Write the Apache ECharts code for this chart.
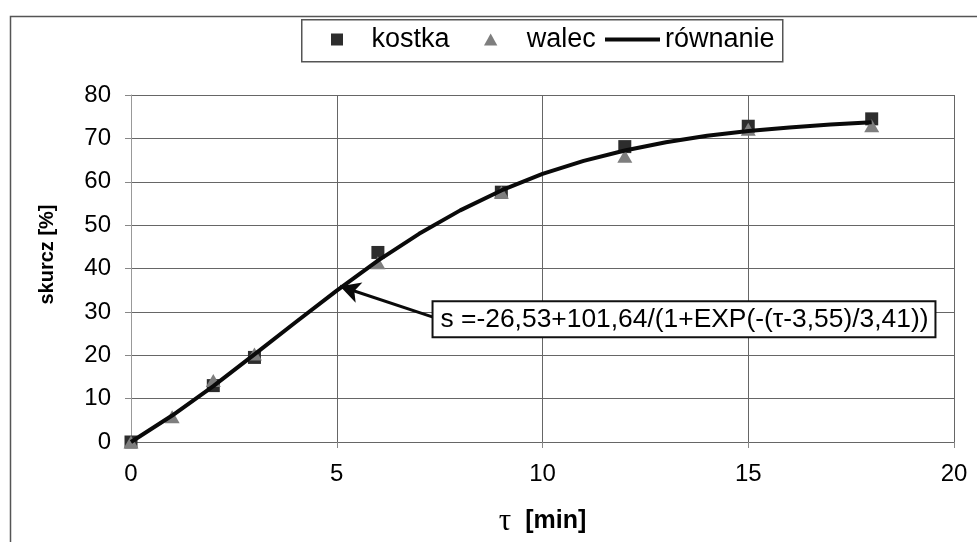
<!DOCTYPE html>
<html>
<head>
<meta charset="utf-8">
<script src="https://cdn.jsdelivr.net/npm/echarts@6/dist/echarts.min.js"></script>
<style>
html,body{margin:0;padding:0;background:#fff;}
#chart{width:977px;height:542px;}
</style>
</head>
<body>
<div id="chart"></div>
<script>
// ---- data ----
var tauKostka = [0, 2, 3, 6, 9, 12, 15, 18];
var kostka    = [0, 13, 19.5, 43.7, 57.6, 68.1, 72.8, 74.5];

var tauWalec  = [0, 1, 2, 3, 6, 9, 12, 15, 18];
var walec     = [0, 5.8, 14.2, 20.3, 41.3, 57.6, 65.9, 72.1, 72.9];

var tauRown    = [0, 1, 2, 3, 4, 5, 6, 7, 8, 9, 10, 11, 12, 13, 14, 15, 16, 17, 18];
var rownanie   = [0, 6.1, 12.9, 20.2, 27.6, 34.9, 41.8, 48.0, 53.4, 58.0, 61.8, 64.8, 67.2, 69.1, 70.6, 71.7, 72.5, 73.2, 73.7];

var seriesNames = ['kostka', 'walec', 'równanie'];
var xTickLabels = ['0', '5', '10', '15', '20'];
var yAxisTitle = 'skurcz [%]';
var equationText = 's =-26,53+101,64/(1+EXP(-(τ-3,55)/3,41))';
var arrowFrom = [7.34, 28.8];
var arrowTo = [5.08, 35.9];
var boxAnchor = [7.34, 28.3];

function pairs(xs, ys) { return xs.map(function (x, i) { return [x, ys[i]]; }); }

var FONT = '"Liberation Sans", Arial, sans-serif';
var chart = echarts.init(document.getElementById('chart'), null, {renderer: 'canvas'});

var legendText = {fontSize: 27, fontFamily: FONT, color: '#000'};
function legendBlock(name, left, icon, w, h, padLeft) {
  return {
    left: left, top: 26, padding: 0,
    itemWidth: w, itemHeight: h,
    symbolKeepAspect: true,
    textStyle: Object.assign({padding: [0, 0, 0, padLeft]}, legendText),
    data: [{name: name, icon: icon}]
  };
}

var option = {
  backgroundColor: '#ffffff',
  animation: false,
  textStyle: {fontFamily: FONT, color: '#000'},
  graphic: [
    {type: 'rect', left: 8, top: 14, z: -1,
     shape: {width: 968, height: 600},
     style: {fill: 'none', stroke: '#555', lineWidth: 1.5}},
    {type: 'rect', left: 301, top: 19, z: -1,
     shape: {width: 481, height: 42},
     style: {fill: '#fff', stroke: '#555', lineWidth: 1.5}}
  ],
  legend: [
    legendBlock(seriesNames[0], 331, 'path://M0,0L10,0L10,10L0,10Z', 13, 12, 23),
    legendBlock(seriesNames[1], 484, 'path://M5,0L10,9L0,9Z', 14, 12, 24),
    legendBlock(seriesNames[2], 605, 'path://M0,0L55,0L55,4L0,4Z', 55, 12, 0)
  ],
  grid: {left: 131, right: 23, top: 95, bottom: 97, containLabel: false},
  xAxis: {
    type: 'value', min: 0, max: 20, interval: 5,
    name: '{t|τ}{u|  [min]}',
    nameLocation: 'middle', nameGap: 64,
    nameTextStyle: {
      rich: {
        t: {fontFamily: '"Liberation Serif", "DejaVu Serif", serif', fontSize: 31, color: '#000'},
        u: {fontFamily: FONT, fontWeight: 'bold', fontSize: 25, color: '#000'}
      }
    },
    axisLine: {show: true, onZero: false, lineStyle: {color: '#666', width: 1}},
    axisTick: {show: true, inside: false, length: 6, lineStyle: {color: '#888'}},
    axisLabel: {fontSize: 24, margin: 20, color: '#000', fontFamily: FONT,
      formatter: function (v) { return xTickLabels[Math.round(v / 5)]; }},
    splitLine: {show: true, lineStyle: {color: '#666', width: 1}}
  },
  yAxis: {
    type: 'value', min: 0, max: 80, interval: 10,
    name: yAxisTitle,
    nameLocation: 'middle', nameGap: 74, nameRotate: 90,
    nameTextStyle: {fontSize: 20, fontWeight: 'bold', color: '#000', fontFamily: FONT,
      padding: [0, 0, 0, 28]},
    axisLine: {show: true, onZero: false, lineStyle: {color: '#999', width: 1}},
    axisTick: {show: true, inside: false, length: 6, lineStyle: {color: '#888'}},
    axisLabel: {fontSize: 24, margin: 20, color: '#000', fontFamily: FONT},
    splitLine: {show: true, lineStyle: {color: '#666', width: 1}}
  },
  series: [
    {
      name: seriesNames[0], type: 'scatter',
      data: pairs(tauKostka, kostka),
      symbol: 'rect', symbolSize: 13,
      itemStyle: {color: '#2d2d2d', opacity: 1}, z: 3
    },
    {
      name: seriesNames[1], type: 'scatter',
      data: pairs(tauWalec, walec),
      symbol: 'triangle', symbolSize: [15, 13],
      itemStyle: {color: '#7e7e7e', opacity: 1}, z: 4
    },
    {
      name: seriesNames[2], type: 'line',
      data: pairs(tauRown, rownanie),
      showSymbol: false, symbol: 'none',
      lineStyle: {color: '#0a0a0a', width: 4},
      itemStyle: {color: '#0a0a0a'},
      z: 5,
      markLine: {
        silent: true,
        symbol: ['none', 'arrow'],
        symbolSize: [16, 20],
        lineStyle: {color: '#0a0a0a', width: 3, type: 'solid'},
        label: {show: false},
        data: [[{coord: arrowFrom}, {coord: arrowTo}]]
      },
      markPoint: {
        silent: true,
        symbol: 'rect', symbolSize: 1,
        itemStyle: {color: 'rgba(0,0,0,0)'},
        label: {
          show: true, position: 'right', distance: 0,
          formatter: equationText,
          fontSize: 26.4, fontFamily: FONT, color: '#000',
          backgroundColor: '#fff', borderColor: '#111', borderWidth: 2,
          padding: [5, 6, 3, 7]
        },
        data: [{coord: boxAnchor, value: 0}]
      }
    }
  ]
};
chart.setOption(option);
</script>
</body>
</html>
